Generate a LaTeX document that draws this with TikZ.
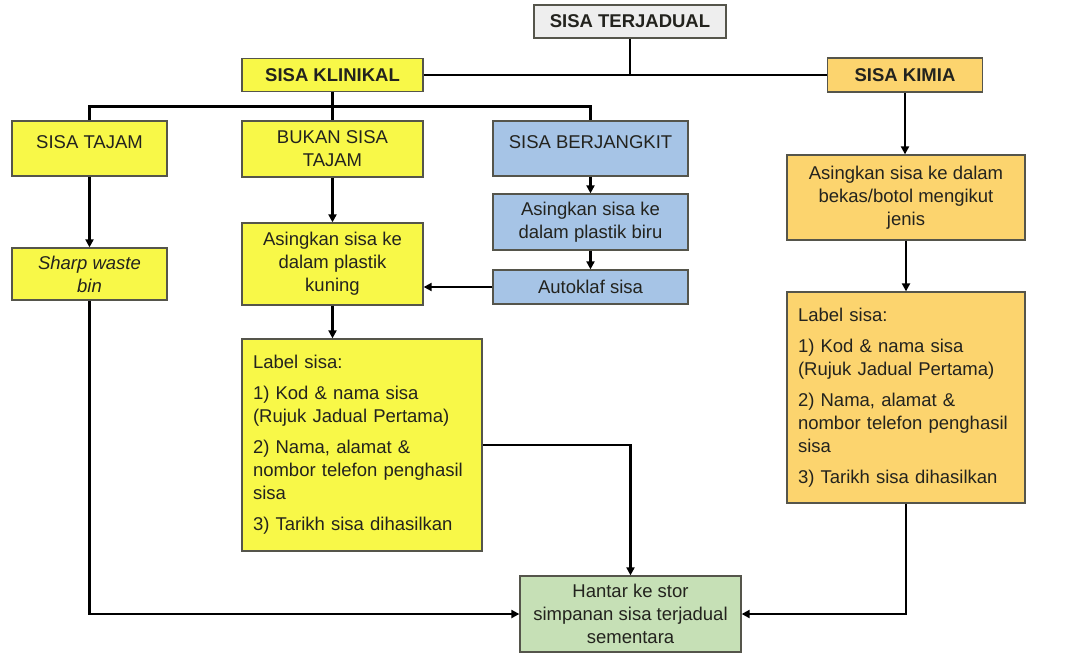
\documentclass[tikz,border=0pt]{standalone}
\usepackage{fontspec}
\setmainfont{Liberation Sans}
\usetikzlibrary{arrows.meta}
\definecolor{cyel}{RGB}{248,248,72}
\definecolor{corg}{RGB}{252,212,110}
\definecolor{cblu}{RGB}{166,196,230}
\definecolor{cgrn}{RGB}{198,224,182}
\definecolor{cgry}{RGB}{238,238,238}
\definecolor{cbord}{RGB}{85,85,75}
\definecolor{ctext}{RGB}{35,35,30}
\begin{document}
\begin{tikzpicture}[x=1pt,y=-1pt,
  box/.style={draw=cbord, line width=1.3pt, inner sep=0pt, text=ctext,
    font=\fontsize{18.5}{23}\selectfont, align=center},
  bbox/.style={box, font=\fontsize{18.5}{23}\selectfont\bfseries},
  lbox/.style={box, align=left, inner xsep=11pt},
  upbox/.style={text height=13pt, text depth=14pt},
  conn/.style={line width=2.4pt, draw=black},
  arr/.style={conn, -{Triangle[length=8pt,width=8pt]}}]
\useasboundingbox (0,0) rectangle (1073,657);
\fill[white] (0,0) rectangle (1073,657);

% top level
\node[bbox, fill=cgry, minimum width=192pt, minimum height=33pt] (terj) at (630,21.5) {SISA TERJADUAL};
\node[bbox, fill=cyel, minimum width=181pt, minimum height=33pt] (klin) at (332.5,75) {SISA KLINIKAL};
\node[bbox, fill=corg, minimum width=155pt, minimum height=34pt] (kimia) at (905,75) {SISA KIMIA};

% clinical branch
\node[box, upbox, fill=cyel, minimum width=155pt, minimum height=55pt] (tajam) at (89.5,148.5) {SISA TAJAM};
\node[box, fill=cyel, minimum width=181pt, minimum height=56pt] (bukan) at (332.5,149) {BUKAN SISA\\TAJAM};
\node[box, upbox, fill=cblu, minimum width=195pt, minimum height=55pt] (berj) at (590.5,148.5) {SISA BERJANGKIT};
\node[box, fill=cblu, minimum width=195pt, minimum height=56pt] (biru) at (590.5,222) {Asingkan sisa ke\\dalam plastik biru};
\node[box, fill=cblu, minimum width=195pt, minimum height=34pt] (auto) at (590.5,287) {Autoklaf sisa};
\node[box, fill=cyel, minimum width=181pt, minimum height=82pt] (kuning) at (332.5,264) {Asingkan sisa ke\\dalam plastik\\kuning};
\node[box, fill=cyel, minimum width=155pt, minimum height=52pt, font=\fontsize{18.5}{23}\selectfont\itshape] (sharp) at (89.5,274) {Sharp waste\\bin};
\node[lbox, fill=cyel, text width=218pt, minimum height=212pt] (label1) at (362,445)
 {Label sisa:\\[8pt]1) Kod \& nama sisa\\(Rujuk Jadual Pertama)\\[8pt]2) Nama, alamat \&\\nombor telefon penghasil\\sisa\\[8pt]3) Tarikh sisa dihasilkan};

% chemical branch
\node[box, fill=corg, minimum width=238pt, minimum height=85pt] (bekas) at (906,197.5) {Asingkan sisa ke dalam\\bekas/botol mengikut\\jenis};
\node[lbox, fill=corg, text width=216pt, minimum height=211pt] (label2) at (906,397.5)
 {Label sisa:\\[8pt]1) Kod \& nama sisa\\(Rujuk Jadual Pertama)\\[8pt]2) Nama, alamat \&\\nombor telefon penghasil\\sisa\\[8pt]3) Tarikh sisa dihasilkan};

% destination
\node[box, fill=cgrn, minimum width=221pt, minimum height=76pt] (hantar) at (630.5,614) {Hantar ke stor\\simpanan sisa terjadual\\sementara};

% connectors
\draw[conn] (klin.east) -- (kimia.west);
\draw[conn] (terj.south) -- (terj.south |- klin.east);
\draw[conn] (klin.south) -- (bukan.north);
\draw[conn] (tajam.north) -- ++(0,-14) -| (berj.north);

\draw[arr] (tajam.south) -- (sharp.north);
\draw[arr] (bukan.south) -- (kuning.north);
\draw[arr] (berj.south) -- (biru.north);
\draw[arr] (biru.south) -- (auto.north);
\draw[arr] (auto.west) -- (auto.west -| kuning.east);
\draw[arr] (kuning.south) -- (kuning.south |- label1.north);

\draw[arr] (kimia.south) -- (kimia.south |- bekas.north);
\draw[arr] (bekas.south) -- (label2.north);

\draw[arr] (sharp.south) |- (hantar.west);
\draw[arr] (label1.east) -| (hantar.north);
\draw[arr] (label2.south) |- (hantar.east);
\end{tikzpicture}
\end{document}
